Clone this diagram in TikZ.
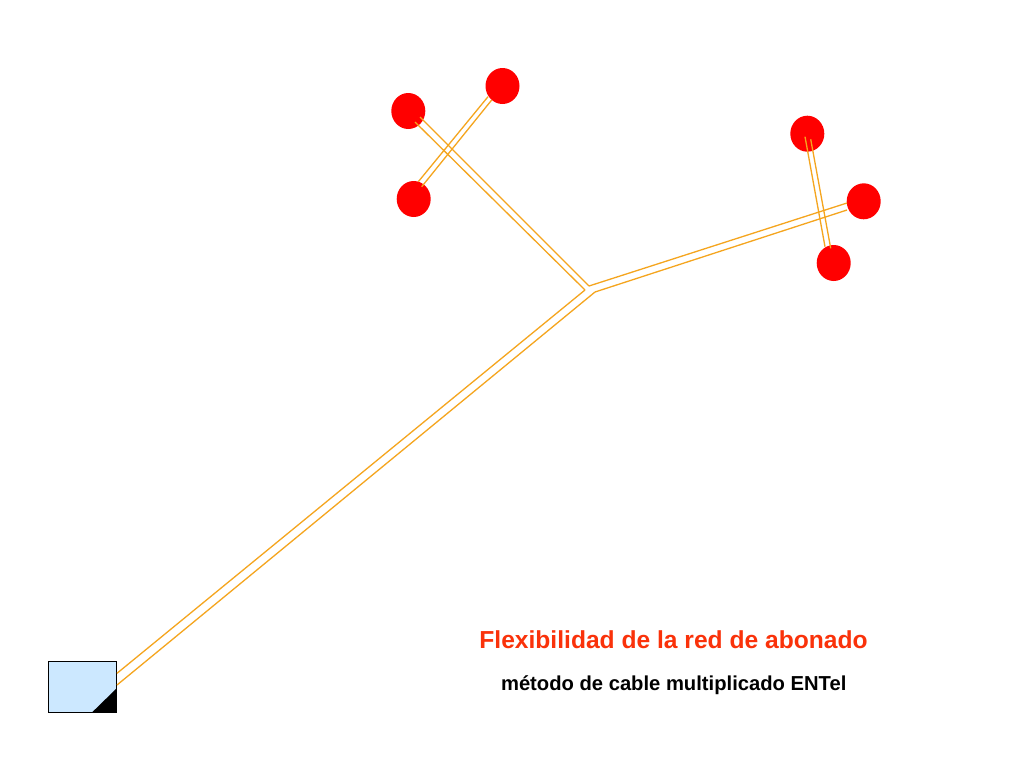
\documentclass[tikz,border=0pt]{standalone}
\usepackage{fontspec}
\setmainfont{Liberation Sans}
\usetikzlibrary{shapes.geometric}
\definecolor{cablecol}{RGB}{245,165,30}
\definecolor{titlecol}{RGB}{250,50,10}
\definecolor{boxblue}{RGB}{204,232,255}
\begin{document}
\begin{tikzpicture}[x=1pt,y=-1pt,
  subscriber/.style={ellipse,fill=red,draw=none,inner sep=0pt,minimum width=34pt,minimum height=36pt},
  exchange/.style={rectangle,fill=boxblue,draw=none,inner sep=0pt,minimum width=68.4pt,minimum height=51pt},
  cable/.style={draw=cablecol,line width=1.3pt},
  titletext/.style={anchor=base,inner sep=0pt,text=titlecol,font=\bfseries\fontsize{24.6}{30}\selectfont},
  subtext/.style={anchor=base,inner sep=0pt,text=black,font=\bfseries\fontsize{20.2}{24}\selectfont}]
\useasboundingbox[fill=white] (0,0) rectangle (1024,768);

% exchange box
\node[exchange] (exch) at (82.5,687.2) {};
\coordinate (triA) at (91.7,712.7);
\coordinate (triB) at (116.7,688.3);
\fill[black] (triA) -- (exch.south east) -- (triB) -- cycle;
\draw[black,line width=1pt] (exch.north west) rectangle (exch.south east);

% subscribers
\node[subscriber] (c1) at (408.3,111) {};
\node[subscriber] (c2) at (502.5,86) {};
\node[subscriber] (c3) at (413.7,199) {};
\node[subscriber] (c4) at (807.3,133.7) {};
\node[subscriber] (c5) at (863.7,201.3) {};
\node[subscriber] (c6) at (833.7,263) {};

% cable tree coordinates
\coordinate (Ta) at (117,673.3);
\coordinate (Tb) at (117,685);
\coordinate (Ja) at (585,290);
\coordinate (Jb) at (589,286);
\coordinate (Jc) at (595,292);
\coordinate (Ua) at (415,122);
\coordinate (Ub) at (420,117);
\coordinate (Ra) at (847,203);
\coordinate (Rb) at (847,210);

% trunk
\draw[cable] (Ta) -- (Ja);
\draw[cable] (Tb) -- (Jc);
% branch to upper left
\draw[cable] (Ja) -- (Ua);
\draw[cable] (Jb) -- (Ub);
% branch to right
\draw[cable] (Jb) -- (Ra);
\draw[cable] (Jc) -- (Rb);

% drop cable c2 - c3
\coordinate (Da1) at (488,96.7);
\coordinate (Da2) at (418.3,181.7);
\coordinate (Db1) at (491.7,100);
\coordinate (Db2) at (421.7,186.7);
\draw[cable] (Da1) -- (Da2);
\draw[cable] (Db1) -- (Db2);

% drop cable c4 - c6
\coordinate (Ea1) at (805,136.7);
\coordinate (Ea2) at (825,246.7);
\coordinate (Eb1) at (810.7,139.3);
\coordinate (Eb2) at (830.7,248.3);
\draw[cable] (Ea1) -- (Ea2);
\draw[cable] (Eb1) -- (Eb2);

% texts
\node[titletext] (title) at (673.5,648.3) {Flexibilidad de la red de abonado};
\node[subtext] (sub) at (673.7,690) {método de cable multiplicado ENTel};
\end{tikzpicture}
\end{document}
